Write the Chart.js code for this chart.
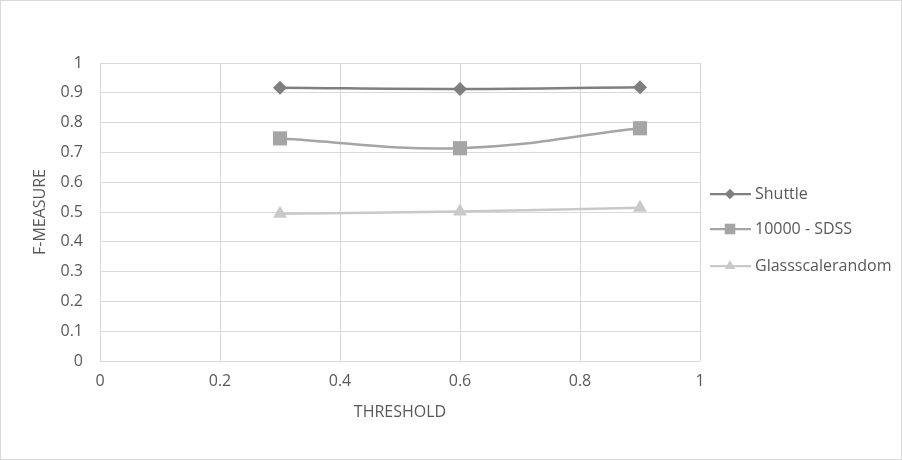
<!DOCTYPE html>
<html>
<head>
<meta charset="utf-8">
<script src="https://cdn.jsdelivr.net/npm/chart.js@4/dist/chart.umd.min.js"></script>
<style>
  body { margin: 0; background: #fff; }
  #wrap { width: 900px; height: 458px; border: 1px solid #d9d9d9; position: relative; }
</style>
</head>
<body>
<div id="wrap"><canvas id="chart" width="900" height="458"></canvas></div>
<script>
const thresholds = [0.3, 0.6, 0.9];
const shuttle = [0.917, 0.913, 0.919];
const sdss = [0.747, 0.714, 0.781];
const glass = [0.494, 0.502, 0.514];
const seriesNames = ["Shuttle", "10000 - SDSS", "Glassscalerandom"];
const seriesColors = ["#7f7f7f", "#a5a5a5", "#c9c9c9"];

const toPoints = vals => thresholds.map((t, i) => ({ x: t, y: vals[i] }));
const fontFam = "'Open Sans', 'Liberation Sans', sans-serif";
const tickFmt = v => String(Number(v.toFixed(2)));

// legend like Excel: short line with a marker in the middle
const legendPlugin = {
    id: 'sideLegend',
    afterDraw(chart) {
        const ctx = chart.ctx;
        const rows = [193, 228, 265];
        chart.data.datasets.forEach((ds, i) => {
            const y = rows[i];
            ctx.save();
            ctx.strokeStyle = ds.borderColor;
            ctx.lineWidth = 2.25;
            ctx.beginPath();
            ctx.moveTo(709, y);
            ctx.lineTo(750, y);
            ctx.stroke();
            ctx.fillStyle = ds.backgroundColor;
            Chart.helpers.drawPoint(ctx, { pointStyle: ds.pointStyle, radius: ds.pointRadius * 0.75, borderWidth: 0 }, 729, y);
            ctx.fillStyle = '#595959';
            ctx.font = "16px " + fontFam;
            ctx.textBaseline = 'middle';
            ctx.fillText(ds.label, 754, y);
            ctx.restore();
        });
    }
};

new Chart(document.getElementById('chart'), {
    type: 'scatter',
    data: {
        datasets: [
            { label: seriesNames[0], data: toPoints(shuttle), pointStyle: 'rectRot', pointRadius: 7 },
            { label: seriesNames[1], data: toPoints(sdss), pointStyle: 'rect', pointRadius: 10 },
            { label: seriesNames[2], data: toPoints(glass), pointStyle: 'triangle', pointRadius: 8 },
        ].map((d, i) => Object.assign(d, {
            showLine: true,
            tension: 0.4,
            borderColor: seriesColors[i],
            backgroundColor: seriesColors[i],
            borderWidth: 2.5,
            pointBorderWidth: 0,
            pointHoverRadius: d.pointRadius,
        }))
    },
    options: {
        responsive: false,
        animation: false,
        layout: { padding: { left: 0, top: 62, right: 201, bottom: 0 } },
        plugins: { legend: { display: false }, tooltip: { enabled: false } },
        scales: {
            x: {
                type: 'linear', min: 0, max: 1,
                ticks: { stepSize: 0.2, color: '#595959', font: { size: 16, family: fontFam }, padding: 11, callback: tickFmt },
                grid: { color: '#d9d9d9', drawTicks: false },
                border: { display: false },
                title: { display: true, text: 'THRESHOLD', color: '#595959', font: { size: 16, family: fontFam }, padding: { top: 0, bottom: 37 } },
                afterFit: s => { s.height = 98; }
            },
            y: {
                type: 'linear', min: 0, max: 1,
                ticks: { stepSize: 0.1, color: '#595959', font: { size: 16, family: fontFam }, padding: 17, callback: tickFmt },
                grid: { color: '#d9d9d9', drawTicks: false },
                border: { display: false },
                title: { display: true, text: 'F-MEASURE', color: '#595959', font: { size: 16, family: fontFam }, padding: { top: 30, bottom: 0 } },
                afterFit: s => { s.width = 99; }
            }
        }
    },
    plugins: [legendPlugin]
});
</script>
</body>
</html>
